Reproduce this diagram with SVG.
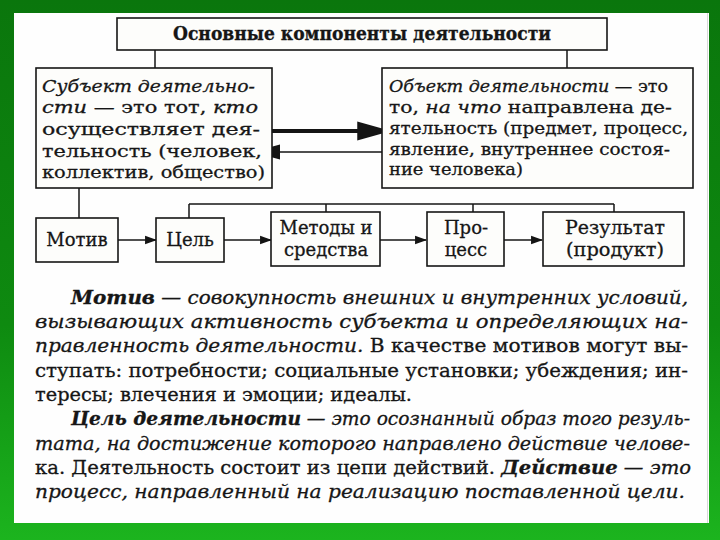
<svg xmlns="http://www.w3.org/2000/svg" width="720" height="540" viewBox="0 0 720 540">
<defs>
<linearGradient id="bg" x1="0" y1="0" x2="0" y2="1">
<stop offset="0" stop-color="#0a760c"/>
<stop offset="0.6" stop-color="#0e8a10"/>
<stop offset="1" stop-color="#1cb41e"/>
</linearGradient>
<marker id="bigHead" markerUnits="userSpaceOnUse" markerWidth="34" markerHeight="20" viewBox="0 0 32 18" refX="12" refY="9" orient="auto">
<path d="M0,0 L32,9 L0,18 z" fill="#141414"/>
</marker>
<marker id="thinHead" markerUnits="userSpaceOnUse" markerWidth="28" markerHeight="16" viewBox="0 0 26 14" refX="4" refY="7" orient="auto">
<path d="M0,0 L26,7 L0,14 z" fill="#141414"/>
</marker>
<marker id="smallHead" markerUnits="userSpaceOnUse" markerWidth="12" markerHeight="10" viewBox="0 0 11 8" refX="10" refY="4" orient="auto">
<path d="M0,0 L11,4 L0,8 z" fill="#141414"/>
</marker>
</defs>
<style>
.box{fill:#fdfdfb;stroke:#161616;stroke-width:1.6}
.ln{fill:none;stroke:#161616;stroke-width:1.5}
.t{font-family:"DejaVu Serif","Liberation Serif",serif;fill:#161616;stroke:#161616;stroke-width:0.3}
.bx{font-size:17px}
.lb{font-size:18px}
.p{font-size:18px}
.c{text-anchor:middle}
.i{font-style:italic}
.b{font-weight:bold}
</style>
<rect x="0" y="0" width="720" height="540" fill="url(#bg)"/>
<rect x="14" y="13" width="695" height="510" fill="#fefefe"/>
<line x1="707.5" y1="13" x2="707.5" y2="523" stroke="#d8d8d8" stroke-width="1"/>

<g id="connectors">
<path class="ln" d="M155,50 V68 M567,50 V68 M79,188 V218 M189,204 H614 M189,204 V218 M326,204 V212 M473,204 V212 M614,204 V212"/>
<line x1="272" y1="131" x2="370" y2="131" stroke="#141414" stroke-width="4" marker-end="url(#bigHead)"/>
<line x1="382" y1="152" x2="276" y2="152" stroke="#141414" stroke-width="1.6" marker-end="url(#thinHead)"/>
<line class="ln" x1="118" y1="240" x2="156" y2="240" marker-end="url(#smallHead)"/>
<line class="ln" x1="224" y1="240" x2="271" y2="240" marker-end="url(#smallHead)"/>
<line class="ln" x1="380" y1="240" x2="426" y2="240" marker-end="url(#smallHead)"/>
<line class="ln" x1="504" y1="240" x2="542" y2="240" marker-end="url(#smallHead)"/>
</g>

<g id="title">
<rect class="box" x="117" y="18" width="490" height="32"/>
<text class="t b c" x="362" y="40" font-size="18" textLength="378" lengthAdjust="spacingAndGlyphs">Основные компоненты деятельности</text>
</g>

<g id="subject">
<rect class="box" x="36" y="68" width="236" height="120"/>
<text class="t bx" x="42" y="92" textLength="213" lengthAdjust="spacingAndGlyphs"><tspan class="i">Субъект деятельно-</tspan></text>
<text class="t bx" x="42" y="113" textLength="216" lengthAdjust="spacingAndGlyphs"><tspan class="i">сти</tspan> — это тот, <tspan class="i">кто</tspan></text>
<text class="t bx" x="42" y="135" textLength="218" lengthAdjust="spacingAndGlyphs">осуществляет дея-</text>
<text class="t bx" x="42" y="157" textLength="220" lengthAdjust="spacingAndGlyphs">тельность (человек,</text>
<text class="t bx" x="42" y="178" textLength="223" lengthAdjust="spacingAndGlyphs">коллектив, общество)</text>
</g>

<g id="object">
<rect class="box" x="382" y="68" width="311" height="120"/>
<text class="t bx" x="389" y="92" textLength="279" lengthAdjust="spacingAndGlyphs"><tspan class="i">Объект деятельности</tspan> — это</text>
<text class="t bx" x="389" y="113" textLength="283" lengthAdjust="spacingAndGlyphs">то, <tspan class="i">на что</tspan> направлена де-</text>
<text class="t bx" x="389" y="134" textLength="299" lengthAdjust="spacingAndGlyphs">ятельность (предмет, процесс,</text>
<text class="t bx" x="389" y="155" textLength="281" lengthAdjust="spacingAndGlyphs">явление, внутреннее состоя-</text>
<text class="t bx" x="389" y="175" textLength="134" lengthAdjust="spacingAndGlyphs">ние человека)</text>
</g>

<g id="motiv">
<rect class="box" x="36" y="218" width="82" height="44"/>
<text class="t lb c" x="77" y="246">Мотив</text>
</g>
<g id="tsel">
<rect class="box" x="156" y="218" width="68" height="44"/>
<text class="t lb c" x="190" y="246">Цель</text>
</g>
<g id="metody">
<rect class="box" x="271" y="212" width="109" height="54"/>
<text class="t lb c" x="326" y="234">Методы и</text>
<text class="t lb c" x="326" y="256">средства</text>
</g>
<g id="protsess">
<rect class="box" x="427" y="212" width="77" height="54"/>
<text class="t lb c" x="466" y="234">Про-</text>
<text class="t lb c" x="466" y="256">цесс</text>
</g>
<g id="rezultat">
<rect class="box" x="543" y="212" width="141" height="54"/>
<text class="t lb c" x="615" y="234" textLength="100" lengthAdjust="spacingAndGlyphs">Результат</text>
<text class="t lb c" x="615" y="256" textLength="98" lengthAdjust="spacingAndGlyphs">(продукт)</text>
</g>

<g id="paragraph">
<text class="t p" x="71" y="304" textLength="617" lengthAdjust="spacingAndGlyphs"><tspan class="b i">Мотив</tspan><tspan class="i"> — совокупность внешних и внутренних условий,</tspan></text>
<text class="t p i" x="35" y="328" textLength="653" lengthAdjust="spacingAndGlyphs">вызывающих  активность  субъекта  и  определяющих  на-</text>
<text class="t p" x="35" y="352" textLength="653" lengthAdjust="spacingAndGlyphs"><tspan class="i">правленность деятельности.</tspan> В качестве мотивов могут вы-</text>
<text class="t p" x="35" y="377" textLength="653" lengthAdjust="spacingAndGlyphs">ступать: потребности; социальные установки; убеждения; ин-</text>
<text class="t p" x="35" y="401" textLength="377" lengthAdjust="spacingAndGlyphs">тересы; влечения и эмоции; идеалы.</text>
<text class="t p" x="71" y="425" textLength="619" lengthAdjust="spacingAndGlyphs"><tspan class="b i">Цель деятельности</tspan><tspan class="i"> — это осознанный образ того резуль-</tspan></text>
<text class="t p i" x="35" y="450" textLength="655" lengthAdjust="spacingAndGlyphs">тата, на достижение которого направлено действие челове-</text>
<text class="t p" x="35" y="474" textLength="656" lengthAdjust="spacingAndGlyphs">ка. Деятельность состоит из цепи действий. <tspan class="b i">Действие</tspan><tspan class="i"> — это</tspan></text>
<text class="t p i" x="35" y="498" textLength="650" lengthAdjust="spacingAndGlyphs">процесс,  направленный  на  реализацию  поставленной  цели.</text>
</g>
</svg>
